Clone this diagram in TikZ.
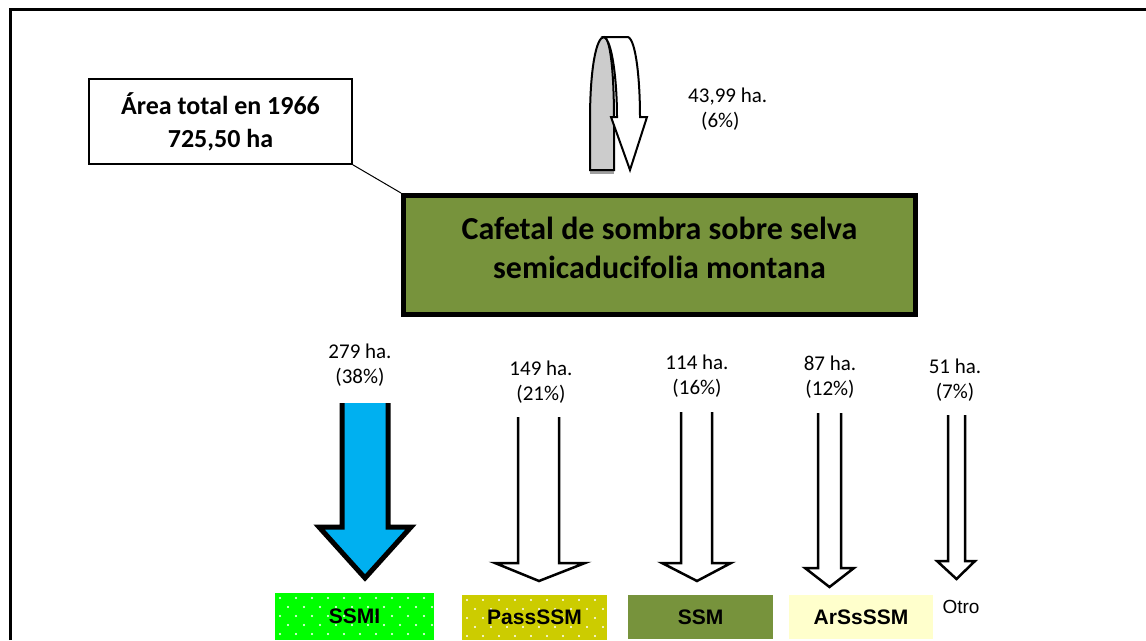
\documentclass[tikz,border=0pt]{standalone}
\usepackage{fontspec}
\setmainfont{Carlito}
\newfontfamily\arialfont{Liberation Sans}
\usepackage{tikz}
\usetikzlibrary{
    positioning,
    calc
}
\definecolor{coffeeGreen}{HTML}{77933C}
\definecolor{ssmiGreen}{HTML}{00FF00}
\definecolor{passYellow}{HTML}{CCCC00}
\definecolor{arsCream}{HTML}{FFFFCC}
\definecolor{flowBlue}{HTML}{00B0F0}

\begin{document}
\begin{tikzpicture}[x=1pt, y=-1pt,
    areabox/.style={draw, line width=1.5pt, align=center, inner sep=0pt,
        minimum width=263pt, minimum height=85pt,
        font=\fontsize{26}{33}\selectfont\bfseries},
    mainbox/.style={draw, fill=coffeeGreen, line width=5pt, inner sep=0pt,
        minimum width=512pt, minimum height=119pt},
    maintext/.style={align=center, inner sep=0pt, font=\fontsize{32}{39}\selectfont\bfseries},
    flowlabel/.style={align=center, inner sep=0pt, font=\fontsize{21}{25}\selectfont},
    coverbox/.style={inner sep=0pt, minimum width=145pt, minimum height=44pt,
        font=\fontsize{21}{25}\selectfont\arialfont\bfseries},
    dotfill/.style={path picture={
        \foreach \j in {0,...,5}
          \foreach \i in {0,...,10}
            \fill[white] ($(path picture bounding box.north west)+({\i*16+5+mod(\j,2)*8},{\j*9+5})$) circle (1.1);
    }},
    blockline/.style={line width=2.5pt}
]
    \useasboundingbox (0,0) rectangle (1146,640);

    % frame
    \draw[line width=3.5pt] (10.5,640) -- (10.5,9.5) -- (1146,9.5);

    % main boxes
    \node[areabox] (area) at (220.5,121.5) {Área total en 1966\\725,50 ha};
    \node[mainbox] (cafetal) at (659.5,255) {};
    \node[maintext] (cafetaltext) at ([yshift=7pt]cafetal.center) {Cafetal de sombra sobre selva\\semicaducifolia montana};
    \draw[line width=1pt] (area.south east) -- (cafetal.north west);

    % curved arrow that stays
    \fill[gray!75] (590,169) rectangle (614,174);
    \draw[line width=2pt, fill=gray!40] (590,170) -- (590,120)
        .. controls (590,70) and (596,37) .. (604,37)
        .. controls (610,37) and (614,70) .. (614,120) -- (614,170) -- cycle;
    \draw[line width=2pt, fill=white] (604,37) -- (628,37)
        .. controls (636,40) and (640,80) .. (640,117) -- (647,117) -- (630,170)
        -- (611,117) -- (617,117) .. controls (617,80) and (612,40) .. (604,37) -- cycle;
    \node[flowlabel, align=left, anchor=west] (stay) at (688,109.5) {43,99 ha.\\\hspace*{13pt}(6\%)};

    % flow labels
    \node[flowlabel] (l279) at (360,365) {279 ha.\\(38\%)};
    \node[flowlabel] (l149) at (541,382) {149 ha.\\(21\%)};
    \node[flowlabel] (l114) at (697,376) {114 ha.\\(16\%)};
    \node[flowlabel] (l87) at (830,377) {87 ha.\\(12\%)};
    \node[flowlabel] (l51) at (955,380) {51 ha.\\(7\%)};

    % block arrows
    \fill[flowBlue] (342,403) -- (342,527) -- (319,527) -- (365,578) -- (411,527) -- (388,527) -- (388,403) -- cycle;
    \draw[line width=5pt] (342,403) -- (342,527) -- (319,527) -- (365,578) -- (411,527) -- (388,527) -- (388,403);
    \draw[blockline] (518,417) -- (518,563) -- (495,563) -- (539,581) -- (585,563) -- (559,563) -- (559,417);
    \draw[blockline] (681,412) -- (681,563) -- (662,563) -- (697,581) -- (731,563) -- (712,563) -- (712,412);
    \draw[blockline] (818,413) -- (818,568) -- (805,568) -- (829.5,587) -- (854,568) -- (841,568) -- (841,413);
    \draw[blockline] (948,415) -- (948,561) -- (937,561) -- (956.5,579) -- (975,561) -- (965,561) -- (965,415);

    % land cover classes
    \node[coverbox, fill=ssmiGreen, dotfill, minimum width=159pt, minimum height=47pt] (ssmi) at (354.5,616.5) {SSMI};
    \node[coverbox, fill=passYellow, dotfill, minimum height=45pt] (pass) at (534.5,617.5) {PassSSM};
    \node[coverbox, fill=coffeeGreen] (ssm) at (700.5,617) {SSM};
    \node[coverbox, fill=arsCream, minimum width=144pt] (arss) at (861,617) {ArSsSSM};
    \node[inner sep=0pt, font=\fontsize{19}{22}\selectfont\arialfont] (otro) at (961,607) {Otro};
\end{tikzpicture}
\end{document}
